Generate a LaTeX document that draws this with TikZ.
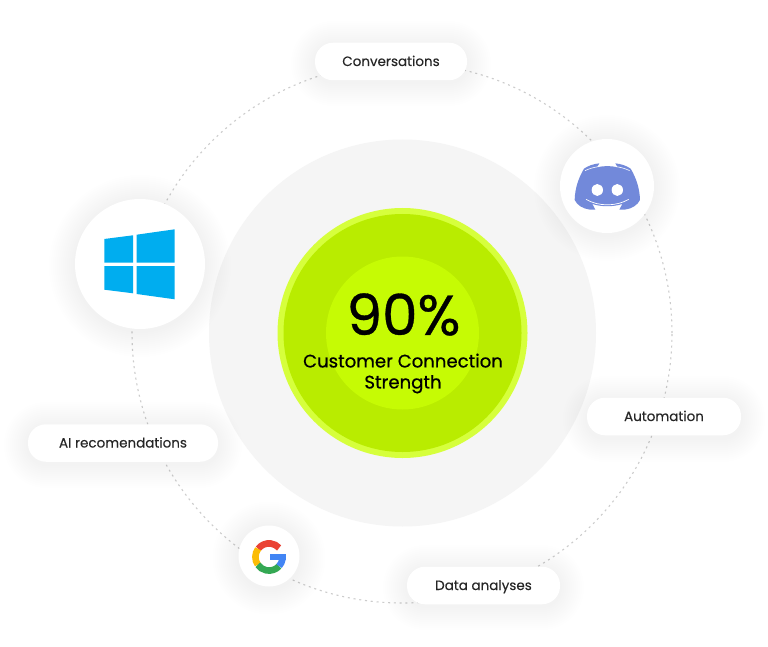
\documentclass[tikz,border=0pt]{standalone}
\usepackage{fontspec}
\setmainfont{Poppins}[FakeBold=0.12]
\newfontfamily\capfont{Poppins}[FakeBold=0.6]
\definecolor{ringgrey}{HTML}{F5F5F5}
\definecolor{rim}{HTML}{D6FF3C}
\definecolor{limemid}{HTML}{B9EC00}
\definecolor{limecore}{HTML}{C6FB04}
\definecolor{winblue}{HTML}{00ADEF}
\definecolor{discordblue}{HTML}{7289DA}
\definecolor{gred}{HTML}{EA4335}
\definecolor{gyellow}{HTML}{FBBC05}
\definecolor{ggreen}{HTML}{34A853}
\definecolor{gblue}{HTML}{4285F4}
\tikzset{
  disc/.style={circle,inner sep=0pt,fill=white},
  pill/.style={rectangle,rounded corners=18pt,fill=white,inner sep=0pt,minimum height=37.5pt,text height=11pt,text depth=2pt,font=\fontsize{13.5}{16}\selectfont,text=black!85},
  orbit/.style={draw=black!20,line width=1.1pt,dash pattern=on 2pt off 3.8pt},
}
% soft shadow of a pill: centre x, centre y, width, height
\newcommand{\softpill}[4]{%
  \foreach \g in {2,4,...,24}{%
    \fill[black,opacity=0.0028,rounded corners=18pt+\g pt]
      ({#1-#3/2-\g},{#2-#4/2-\g+2}) rectangle ({#1+#3/2+\g},{#2+#4/2+\g+2});}}
% soft shadow of a disc: centre x, centre y, radius
\newcommand{\softdisc}[3]{%
  \foreach \g in {2,4,...,26}{%
    \fill[black,opacity=0.0028] (#1,{#2+2}) circle[radius={(#3+\g)*1pt}];}}
\begin{document}
\begin{tikzpicture}[x=1pt,y=-1pt]
\useasboundingbox (0,0) rectangle (768,647);
\fill[white] (0,0) rectangle (768,647);
% orbit
\node[circle,orbit,minimum size=540pt,inner sep=0pt] (orbitring) at (402,333) {};
% centre rings
\node[circle,fill=ringgrey,minimum size=387pt,inner sep=0pt] (grey) at (402.5,333) {};
\node[circle,fill=rim,minimum size=250pt,inner sep=0pt] (rimdisc) at (402.5,333) {};
\node[circle,fill=limemid,minimum size=238pt,inner sep=0pt] (middisc) at (402.5,333) {};
\node[circle,fill=limecore,minimum size=153pt,inner sep=0pt] (core) at (402.5,333) {};
\node[font=\capfont\fontsize{56.5}{60}\selectfont,text=black] (pct) at (403.5,314.5) {90\%};
\node[font=\capfont\fontsize{18.1}{21}\selectfont,text=black,align=center] (cap) at (403,373.5) {Customer Connection\\[0pt]Strength};
% shadows
\softpill{391}{61.5}{152}{37}
\softpill{664}{417}{154}{38}
\softpill{483.5}{585.5}{153}{37}
\softpill{123}{443}{190}{38}
\softdisc{607}{186}{47}
\softdisc{140}{264}{65}
\softdisc{269}{556}{30.5}
% pills
\node[pill,minimum width=152pt] (conv) at (391,61.5) {Conversations};
\node[pill,minimum width=154pt] (auto) at (664,416.5) {Automation};
\node[pill,minimum width=153pt] (data) at (483.5,585.5) {Data analyses};
\node[pill,minimum width=190pt] (ai) at (123,443) {AI recomendations};
% discs
\node[disc,minimum size=94pt] (discord) at (607,186) {};
\node[disc,minimum size=130pt] (windows) at (140,264) {};
\node[disc,minimum size=61pt] (google) at (269,556) {};
% Windows logo
\fill[winblue] (104.3,239) -- (133,235.3) -- (133,262.7) -- (104.3,262.7) -- cycle;
\fill[winblue] (136.7,234.7) -- (174.7,229.3) -- (174.7,262.7) -- (136.7,262.7) -- cycle;
\fill[winblue] (104.3,266) -- (133,266) -- (133,293.3) -- (104.3,289.7) -- cycle;
\fill[winblue] (136.7,266) -- (174.7,266) -- (174.7,299.3) -- (136.7,294) -- cycle;
% Discord logo
\begin{scope}[shift={(540,120)},x=0.3333pt,y=-0.3333pt]
\fill[discordblue] (178,130) .. controls (160,132) and (145,137) .. (132,146)
  .. controls (115,175) and (105,205) .. (104,240)
  .. controls (112,256) and (128,266) .. (150,269)
  -- (166,269) -- (157,252)
  .. controls (185,261) and (219,261) .. (247,252)
  -- (238,269) -- (254,269)
  .. controls (276,266) and (292,256) .. (300,240)
  .. controls (299,205) and (289,175) .. (272,146)
  .. controls (259,137) and (244,132) .. (226,130)
  -- (233,142) .. controls (212,137) and (192,137) .. (171,142) -- cycle;
\draw[white,line width=0.6pt] (135,152) .. controls (148,146) and (160,142) .. (176,140);
\draw[white,line width=0.6pt] (269,152) .. controls (256,146) and (244,142) .. (228,140);
\draw[white,line width=0.7pt] (138,238) .. controls (175,260) and (229,260) .. (266,238);
\fill[white] (172,210) ellipse[x radius=17,y radius=18];
\fill[white] (232,210) ellipse[x radius=17,y radius=18];
\end{scope}
% Google logo
\begin{scope}[shift={(269,557)},x=1pt,y=1pt]
\draw[gred,line width=6.6pt] (143:13.6) arc (143:42:13.6);
\draw[gyellow,line width=6.6pt] (215:13.6) arc (215:143:13.6);
\draw[ggreen,line width=6.6pt] (318:13.6) arc (318:215:13.6);
\draw[gblue,line width=6.6pt] (318:13.6) arc (-42:-8:13.6);
\fill[gblue] (0.5,3.2) rectangle (17.3,-3);
\end{scope}
\end{tikzpicture}
\end{document}
